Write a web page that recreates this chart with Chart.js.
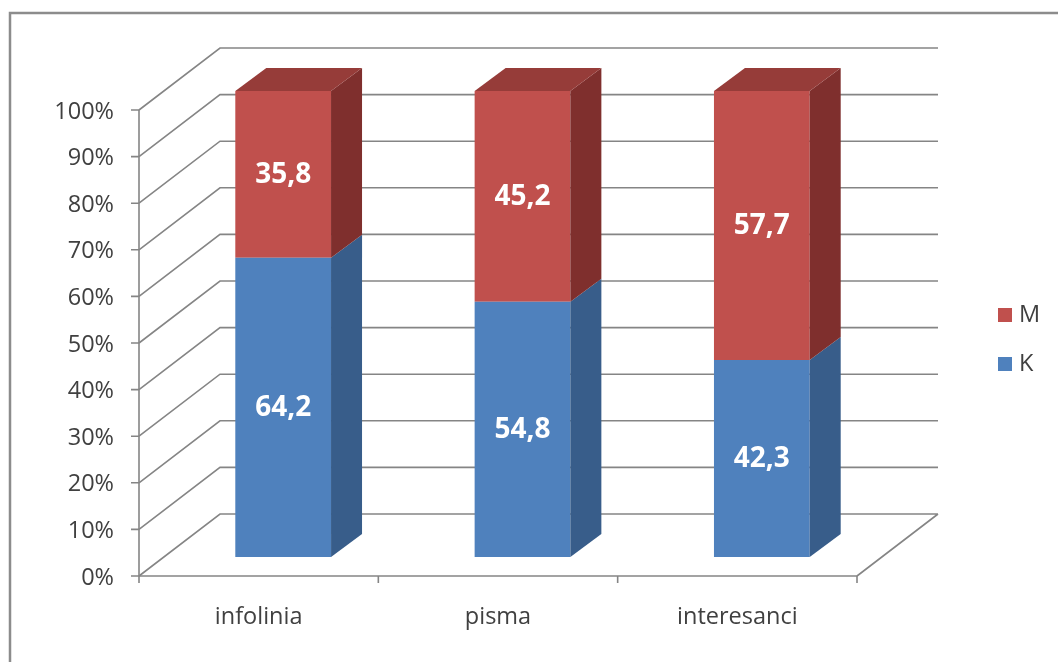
<!DOCTYPE html>
<html>
<head>
<meta charset="utf-8">
<script src="https://cdn.jsdelivr.net/npm/chart.js@4.4.0/dist/chart.umd.min.js"></script>
<style>
  html, body { margin: 0; padding: 0; background: #ffffff; }
  #wrap { width: 1058px; height: 662px; position: relative; }
</style>
</head>
<body>
<div id="wrap"><canvas id="c" width="1058" height="662"></canvas></div>
<script>
// ---- data ----
const categories = ['infolinia', 'pisma', 'interesanci'];
const seriesNames = ['K', 'M'];
const valuesK = [64.2, 54.8, 42.3];
const valuesM = [35.8, 45.2, 57.7];
const yTickValues = [0, 10, 20, 30, 40, 50, 60, 70, 80, 90, 100];
const yTickLabels = ['0%', '10%', '20%', '30%', '40%', '50%', '60%', '70%', '80%', '90%', '100%'];

// ---- style ----
const FRONT = ['#4F81BD', '#C0504D'];
const SIDE = ['#385D8A', '#7F2F2D'];
const TOP = ['#4372A8', '#963C39'];
const WALL = { dx: 81, dy: -62 };
const SHIFT = { dx: 24.5, dy: -19 };
const DEPTH = { dx: 31, dy: -23 };
const GRID = '#858585';
const TEXT = '#404040';
const FONT = '"Open Sans", "DejaVu Sans", sans-serif';

const fmt = v => v.toFixed(1).replace('.', ',');

const threeD = {
  id: 'threeD',
  beforeDatasetsDraw(chart) {
    const ctx = chart.ctx;
    const xs = chart.scales.x, ys = chart.scales.y;
    const L = chart.chartArea.left, R = chart.chartArea.right;
    const B = ys.getPixelForValue(0);
    ctx.save();
    // outer border
    ctx.strokeStyle = '#8C8C8C';
    ctx.lineWidth = 2.5;
    ctx.strokeRect(10, 13, 1200, 800);

    // walls / grid
    ctx.strokeStyle = GRID;
    ctx.lineWidth = 1.6;
    ctx.beginPath();
    yTickValues.forEach(v => {
      const y = ys.getPixelForValue(v);
      ctx.moveTo(L, y);
      ctx.lineTo(L + WALL.dx, y + WALL.dy);
      ctx.lineTo(R + WALL.dx, y + WALL.dy);
    });
    // floor right edge
    ctx.moveTo(R, B);
    ctx.lineTo(R + WALL.dx, B + WALL.dy);
    ctx.stroke();

    // front axes
    ctx.beginPath();
    ctx.moveTo(L, ys.getPixelForValue(100));
    ctx.lineTo(L, B);
    ctx.lineTo(R, B);
    yTickValues.forEach(v => {
      const y = ys.getPixelForValue(v);
      ctx.moveTo(L - 8, y);
      ctx.lineTo(L, y);
    });
    for (let i = 0; i <= categories.length; i++) {
      const x = L + (R - L) * i / categories.length;
      ctx.moveTo(x, B);
      ctx.lineTo(x, B + 7);
    }
    ctx.stroke();

    // y tick labels
    ctx.fillStyle = TEXT;
    ctx.font = '23.5px ' + FONT;
    ctx.textAlign = 'right';
    ctx.textBaseline = 'middle';
    yTickValues.forEach((v, i) => {
      ctx.fillText(yTickLabels[i], L - 25, ys.getPixelForValue(v) + 2);
    });
    // category labels
    ctx.textAlign = 'center';
    categories.forEach((c, i) => {
      ctx.fillText(c, xs.getPixelForValue(i), B + 41);
    });
    // legend (reverse order)
    const legendItems = [1, 0];
    legendItems.forEach((di, k) => {
      const cy = 315 + k * 49;
      ctx.fillStyle = FRONT[di];
      ctx.fillRect(998, cy - 7, 14, 14);
      ctx.fillStyle = TEXT;
      ctx.textAlign = 'left';
      ctx.fillText(seriesNames[di], 1019, cy);
    });
    ctx.restore();

    // shift bars to mid-depth
    ctx.save();
    ctx.translate(SHIFT.dx, SHIFT.dy);
  },
  afterDatasetsDraw(chart) {
    const ctx = chart.ctx;
    const nDs = chart.data.datasets.length;
    // side and top faces
    for (let d = 0; d < nDs; d++) {
      const meta = chart.getDatasetMeta(d);
      meta.data.forEach((bar) => {
        const p = bar.getProps(['x', 'y', 'base', 'width'], true);
        const left = p.x - p.width / 2, right = p.x + p.width / 2;
        const top = Math.min(p.y, p.base), bot = Math.max(p.y, p.base);
        ctx.fillStyle = SIDE[d];
        ctx.beginPath();
        ctx.moveTo(right, bot);
        ctx.lineTo(right + DEPTH.dx, bot + DEPTH.dy);
        ctx.lineTo(right + DEPTH.dx, top + DEPTH.dy);
        ctx.lineTo(right, top);
        ctx.closePath();
        ctx.fill();
        if (d === nDs - 1) {
          ctx.fillStyle = TOP[d];
          ctx.beginPath();
          ctx.moveTo(left, top);
          ctx.lineTo(left + DEPTH.dx, top + DEPTH.dy);
          ctx.lineTo(right + DEPTH.dx, top + DEPTH.dy);
          ctx.lineTo(right, top);
          ctx.closePath();
          ctx.fill();
        }
      });
    }
    // value labels
    ctx.fillStyle = '#FFFFFF';
    ctx.font = 'bold 28px ' + FONT;
    ctx.textAlign = 'center';
    ctx.textBaseline = 'middle';
    for (let d = 0; d < nDs; d++) {
      const meta = chart.getDatasetMeta(d);
      const vals = chart.data.datasets[d].data;
      meta.data.forEach((bar, i) => {
        const p = bar.getProps(['x', 'y', 'base'], true);
        ctx.fillText(fmt(vals[i]), p.x, (p.y + p.base) / 2 + 1);
      });
    }
    ctx.restore();
  }
};

new Chart(document.getElementById('c'), {
  type: 'bar',
  data: {
    labels: categories,
    datasets: [
      { label: seriesNames[0], data: valuesK, backgroundColor: FRONT[0], clip: false },
      { label: seriesNames[1], data: valuesM, backgroundColor: FRONT[1], clip: false }
    ]
  },
  options: {
    responsive: false,
    animation: false,
    devicePixelRatio: 1,
    layout: { padding: { left: 139, right: 201, top: 110, bottom: 86 } },
    datasets: { bar: { categoryPercentage: 1.0, barPercentage: 0.4, borderWidth: 0 } },
    scales: {
      x: { stacked: true, display: false },
      y: { stacked: true, display: false, min: 0, max: 100, ticks: { stepSize: 10 } }
    },
    plugins: { legend: { display: false }, tooltip: { enabled: false } }
  },
  plugins: [threeD]
});
</script>
</body>
</html>
